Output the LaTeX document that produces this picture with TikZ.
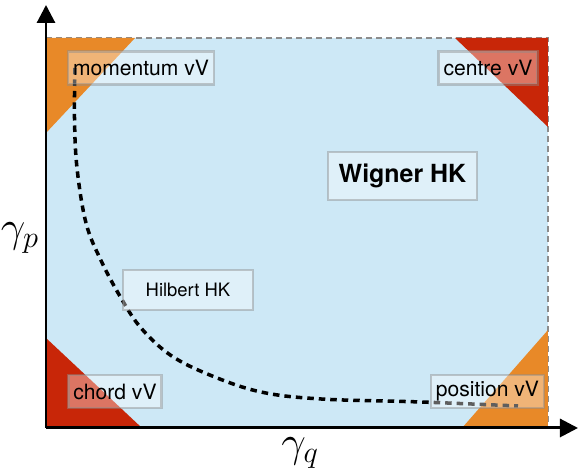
\documentclass[tikz,border=0pt]{standalone}
\usepackage{amsmath}
\usepackage{amssymb}
\usepackage{fontspec}
\setsansfont{TeX Gyre Heros}
\usetikzlibrary{arrows.meta}
\definecolor{hkblue}{RGB}{205,232,246}
\definecolor{vvorange}{RGB}{232,137,40}
\definecolor{vvred}{RGB}{200,38,8}
\tikzset{
  lbl/.style={draw=black!45, draw opacity=0.45, line width=1.6pt, fill=white, fill opacity=0.37, text opacity=1,
    font=\sffamily\fontsize{12}{14}\selectfont, inner xsep=0.1cm, minimum height=0.66cm},
  axis/.style={line width=1.7pt, -{Triangle[length=0.36cm,width=0.36cm]}}
}
\begin{document}
\begin{tikzpicture}
\useasboundingbox (-0.92,-0.86) rectangle (10.7,8.56);
\fill[hkblue] (0,0) rectangle (10.04,7.8);
\draw[black!45, line width=1.5pt, dash pattern=on 0.12cm off 0.08cm] (0,7.8) -- (10.04,7.8) -- (10.04,0);
\fill[vvorange] (0,7.8) -- (1.78,7.8) -- (0,5.9) -- cycle;
\fill[vvred] (8.18,7.8) -- (10.04,7.8) -- (10.04,6.02) -- cycle;
\fill[vvred] (0,1.8) -- (0,0) -- (1.92,0) -- cycle;
\fill[vvorange] (10.04,1.96) -- (10.04,0) -- (8.32,0) -- cycle;
\draw[line width=2pt, dash pattern=on 0.13cm off 0.1cm, smooth, tension=0.6] plot coordinates {(0.58,7.2) (0.57,6.2) (0.62,5.2) (0.8,4.1) (1.1,3.35) (1.5,2.6) (1.9,2.0) (2.5,1.45) (3.3,1.05) (4.3,0.72) (5.5,0.58) (7.5,0.52) (9.44,0.44)};
\draw[axis] (0,0) -- (0,8.46);
\draw[axis] (0,0) -- (10.64,0);
\node[lbl] (momentum) at (1.9,7.2) {momentum vV};
\node[lbl] (centre) at (8.84,7.2) {centre vV};
\node[lbl] (chord) at (1.38,0.73) {chord vV};
\node[lbl] (position) at (8.83,0.73) {position vV};
\node[lbl, font=\sffamily\bfseries\fontsize{14.2}{16}\selectfont, minimum width=2.98cm, minimum height=0.96cm] (wigner) at (7.13,5.04) {Wigner HK};
\node[lbl, font=\sffamily\fontsize{10.5}{12}\selectfont, minimum width=2.6cm, minimum height=0.8cm] (hilbert) at (2.84,2.76) {Hilbert HK};
\node (gp) at (-0.52,3.8) {\fontsize{24}{28}\selectfont$\gamma_p$};
\node (gq) at (5.08,-0.5) {\fontsize{24}{28}\selectfont$\gamma_q$};
\end{tikzpicture}
\end{document}
